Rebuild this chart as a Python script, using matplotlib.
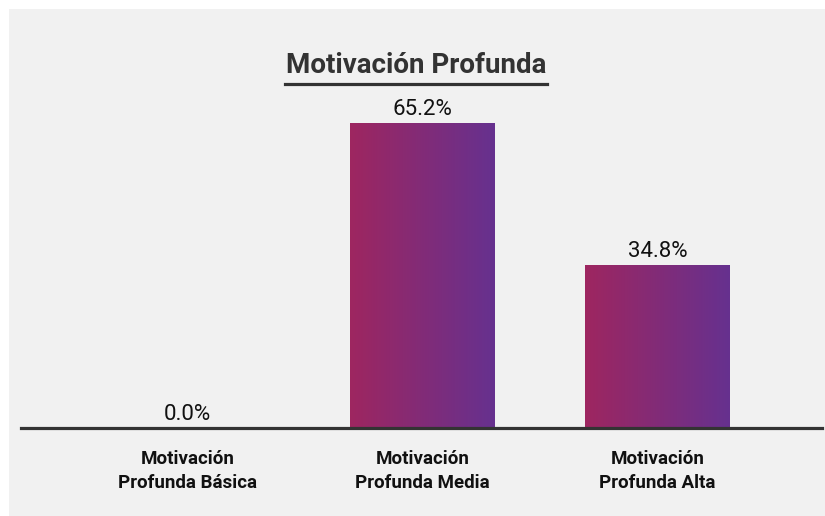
import matplotlib
matplotlib.use("Agg")
import matplotlib.pyplot as plt
from matplotlib.patches import Rectangle
from matplotlib.colors import LinearSegmentedColormap
import numpy as np

categorias = ["Motivación\nProfunda Básica", "Motivación\nProfunda Media", "Motivación\nProfunda Alta"]
porcentajes = [0.0, 65.2, 34.8]
titulo = "Motivación Profunda"

plt.rcParams['font.family'] = ['Roboto', 'DejaVu Sans']

fig = plt.figure(figsize=(8.25, 5.16), dpi=100)
fig.patch.set_facecolor('white')
# panel gris de fondo
fig.patches.append(Rectangle((9 / 825, 0), 1 - 9 / 825, 1 - 9 / 516, transform=fig.transFigure,
                             facecolor='#f1f1f1', edgecolor='none', zorder=-10))

ax = fig.add_axes([21 / 825, 88 / 516, 801 / 825, 305 / 516])
ax.patch.set_alpha(0)

x = np.arange(len(categorias))
barras = ax.bar(x, porcentajes, width=0.617, color='none')
ax.set_xlim(-0.709, 2.70)
ax.set_ylim(0, 65.2)

# degradado horizontal en cada barra
degradado = LinearSegmentedColormap.from_list('mot', ['#9e2660', '#66318f'])
grad = np.linspace(0, 1, 256).reshape(1, -1)
for b in barras:
    if b.get_height() > 0:
        ax.imshow(grad, cmap=degradado, aspect='auto', extent=[b.get_x(), b.get_x() + b.get_width(), 0, b.get_height()], zorder=2)

for xi, v in zip(x, porcentajes):
    ax.annotate(f"{v:.1f}%", (xi, v), xytext=(0, 5.8), textcoords='offset points',
                ha='center', va='baseline', fontsize=16, color='#111111', annotation_clip=False)

for s in ['top', 'right', 'left']:
    ax.spines[s].set_visible(False)
ax.spines['bottom'].set_linewidth(2.3)
ax.spines['bottom'].set_color('#333333')
ax.set_yticks([])
ax.set_xticks(x)
ax.set_xticklabels(categorias, fontsize=13.5, fontweight='bold', color='#111111', linespacing=1.4)
ax.tick_params(axis='x', length=0, pad=16)

fig.text(416 / 825, 1 - 73 / 516, titulo, ha='center', va='baseline', fontsize=20, fontweight='bold', color='#333333')
fig.add_artist(plt.Line2D([285 / 825, 547 / 825], [1 - 84 / 516, 1 - 84 / 516], color='#333333', linewidth=2.3))

fig.savefig('out.png', dpi=100)
